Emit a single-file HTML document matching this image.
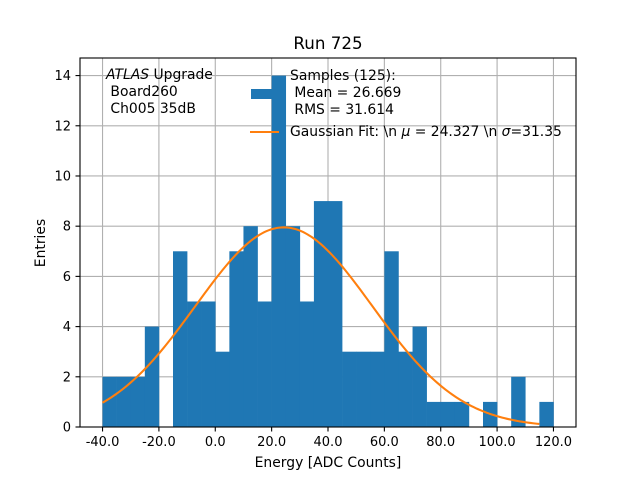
<!DOCTYPE html>
<html><head><meta charset="utf-8"><style>
body{margin:0;background:#fff}
svg text{font-family:"DejaVu Sans","Liberation Sans",sans-serif;fill:#000;white-space:pre}
</style></head><body>
<svg width="640" height="480" viewBox="0 0 640 480">
<rect width="640" height="480" fill="#fff"/>
<g id="grid"></g>
<g id="bars"></g>
<path id="fit" fill="none" stroke="#ff7f0e" stroke-width="2.08"/>
<rect x="80" y="58" width="496" height="369" fill="none" stroke="#000" stroke-width="1.1"/>
<g id="ticks"></g>
<text x="328" y="49" font-size="16.7" text-anchor="middle">Run 725</text>
<text x="328" y="467" font-size="13.9" text-anchor="middle">Energy [ADC Counts]</text>
<text transform="translate(45,243) rotate(-90)" font-size="13.9" text-anchor="middle">Entries</text>
<g font-size="13.9">
<text x="106" y="79" xml:space="preserve"><tspan font-style="italic">ATLAS</tspan> Upgrade</text>
<text x="106" y="96" xml:space="preserve"> Board260</text>
<text x="106" y="113" xml:space="preserve"> Ch005 35dB</text>
</g>
<g font-size="13.9">
<rect x="251" y="89" width="22" height="10" fill="#1f77b4"/>
<text x="290" y="80">Samples (125):</text>
<text x="290" y="97" xml:space="preserve"> Mean = 26.669</text>
<text x="290" y="114" xml:space="preserve"> RMS = 31.614</text>
<line x1="250" y1="132" x2="279" y2="132" stroke="#ff7f0e" stroke-width="2.08"/>
<text x="290" y="136">Gaussian Fit: \n <tspan font-style="italic">μ</tspan> = 24.327 \n <tspan font-style="italic">σ</tspan>=31.35</text>
</g>
</svg>
<script>
const binStart = -40;
const binWidth = 5;
const counts = [2,2,2,4,0,7,5,5,3,7,8,5,14,8,5,9,9,3,3,3,7,3,4,1,1,1,0,1,0,2,0,1];
const xTicks = [-40,-20,0,20,40,60,80,100,120];
const yTicks = [0,2,4,6,8,10,12,14];
const fitMu = 24.327;
const fitSigma = 31.35;
const fitN = 125;
const fitRange = [-40,115];

const NS="http://www.w3.org/2000/svg";
const xMin=-48,xMax=128,yMax=14.7;
const X=v=>80+(v-xMin)/(xMax-xMin)*496;
const Y=v=>427-v/yMax*369;
function mk(t,a,p){const e=document.createElementNS(NS,t);for(const k in a)e.setAttribute(k,a[k]);p.appendChild(e);return e;}
const grid=document.getElementById('grid'),bars=document.getElementById('bars'),ticks=document.getElementById('ticks');
xTicks.forEach(v=>{
 const g=mk('line',{x1:X(v),x2:X(v),y1:58,y2:427,stroke:'#b0b0b0','stroke-width':1.1},grid);
 
 
 const t=mk('line',{x1:X(v),x2:X(v),y1:427,y2:431.5,stroke:'#000','stroke-width':1.1},ticks);
 
 
 const l=mk('text',{x:X(v),y:446,'font-size':13,'text-anchor':'middle'},ticks);
 l.textContent=v.toFixed(1);
 
 
});
yTicks.forEach(v=>{
 const g=mk('line',{x1:80,x2:576,y1:Y(v),y2:Y(v),stroke:'#b0b0b0','stroke-width':1.1},grid);
 
 
 const t=mk('line',{x1:75.5,x2:80,y1:Y(v),y2:Y(v),stroke:'#000','stroke-width':1.1},ticks);
 
 
 const l=mk('text',{x:71,y:Y(v)+4.5,'font-size':13,'text-anchor':'end'},ticks);
 l.textContent=v;
 
 
});
counts.forEach((c,i)=>{
 if(!c)return;
 const x0=X(binStart+i*binWidth),x1=X(binStart+(i+1)*binWidth);
 const r=mk('rect',{x:x0,y:Y(c),width:x1-x0+0.3,height:Y(0)-Y(c),fill:'#1f77b4'},bars);
 
 
});
const amp=fitN*binWidth/(Math.sqrt(2*Math.PI)*fitSigma);
let d='';
for(let k=0;k<=200;k++){const v=fitRange[0]+(fitRange[1]-fitRange[0])*k/200;
 const y=amp*Math.exp(-0.5*((v-fitMu)/fitSigma)**2);
 d+=(k?'L':'M')+X(v).toFixed(2)+','+Y(y).toFixed(2);}
document.getElementById('fit').setAttribute('d',d);
</script>
</body></html>
